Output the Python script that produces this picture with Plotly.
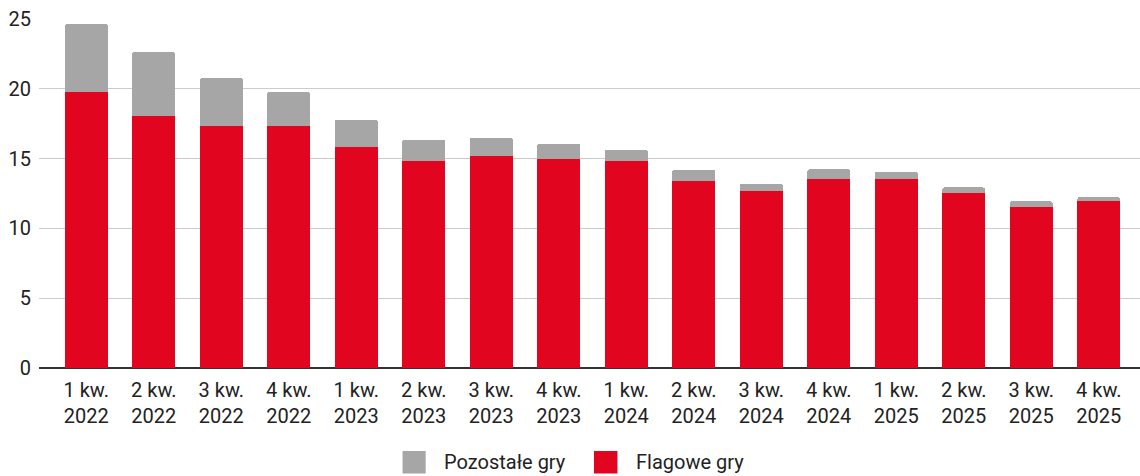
import plotly.graph_objects as go

quarters = ["1 kw.", "2 kw.", "3 kw.", "4 kw."] * 4
years = ["2022"] * 4 + ["2023"] * 4 + ["2024"] * 4 + ["2025"] * 4
categories = [f"{q} {y}" for q, y in zip(quarters, years)]
tick_labels = [f"{q}<br>{y}" for q, y in zip(quarters, years)]

flagowe = [19.80, 18.08, 17.37, 17.37, 15.81, 14.81, 15.21, 14.95,
           14.81, 13.40, 12.66, 13.52, 13.52, 12.51, 11.51, 11.94]
pozostale = [4.85, 4.56, 3.41, 2.41, 1.98, 1.55, 1.29, 1.12,
             0.83, 0.81, 0.55, 0.71, 0.55, 0.43, 0.43, 0.31]

series_names = ["Flagowe gry", "Pozostałe gry"]
legend_order = ["Pozostałe gry", "Flagowe gry"]

RED = "#E10520"
GRAY = "#A6A6A6"
TEXT = "#222222"
colors = {"Flagowe gry": RED, "Pozostałe gry": GRAY}

fig = go.Figure()
fig.add_trace(go.Bar(x=categories, y=flagowe, name=series_names[0],
                     marker=dict(color=RED, line=dict(width=0)), showlegend=False))
fig.add_trace(go.Bar(x=categories, y=pozostale, name=series_names[1],
                     marker=dict(color=GRAY, line=dict(width=0)), showlegend=False))

# Custom legend (large square swatches like the original)
legend_swatch_x = [(0.3302, 0.3512), (0.5041, 0.5254)]
legend_text_x = [0.3660, 0.5405]
for name, (x0, x1), tx in zip(legend_order, legend_swatch_x, legend_text_x):
    fig.add_shape(type="rect", xref="paper", yref="paper",
                  x0=x0, x1=x1, y0=-0.3023, y1=-0.2378,
                  fillcolor=colors[name], line=dict(width=0))
    fig.add_annotation(xref="paper", yref="paper", x=tx, y=-0.2693,
                       xanchor="left", yanchor="middle", text=name,
                       showarrow=False, font=dict(size=20, color=TEXT))

fig.update_layout(
    width=1140, height=476,
    margin=dict(l=39, r=0, t=19, b=108, autoexpand=False),
    barmode="stack", bargap=0.36, barcornerradius=3,
    paper_bgcolor="white", plot_bgcolor="white",
    font=dict(family="Roboto", size=20, color=TEXT),
    showlegend=False,
)
fig.update_xaxes(
    type="category", tickmode="array", tickvals=categories, ticktext=tick_labels,
    range=[-0.70, 15.61], showgrid=False, ticks="", tickangle=0,
    tickfont=dict(size=20, color=TEXT), ticklabelstandoff=8,
    showline=False, zeroline=False, automargin=False,
)
fig.update_yaxes(
    range=[0, 25], tickvals=[0, 5, 10, 15, 20, 25],
    showgrid=True, gridcolor="#CCCCCC", gridwidth=1.2,
    zeroline=True, zerolinecolor="#333333", zerolinewidth=1.5,
    ticks="", ticklabelstandoff=7, tickfont=dict(size=20, color=TEXT),
    automargin=False,
)

fig.write_html("out.html")
